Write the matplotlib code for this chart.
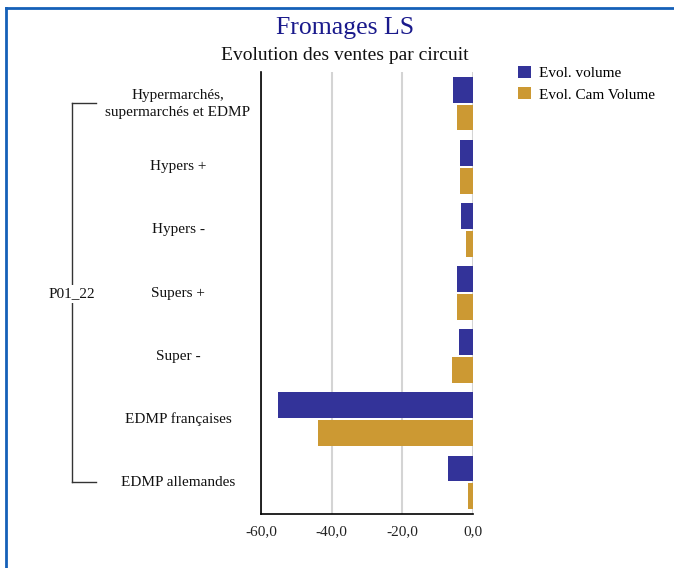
import matplotlib
matplotlib.use("Agg")
import matplotlib.pyplot as plt
from matplotlib.lines import Line2D
import numpy as np

categories = ["Hypermarchés,\nsupermarchés et EDMP", "Hypers +", "Hypers -",
              "Supers +", "Super -", "EDMP françaises", "EDMP allemandes"]
group_label = "P01_22"
evol_volume = [-5.7, -3.7, -3.5, -4.6, -4.0, -55.3, -7.1]
evol_cam_volume = [-4.6, -3.7, -2.1, -4.6, -6.0, -43.8, -1.5]
series_names = ["Evol. volume", "Evol. Cam Volume"]
xticks = [-60, -40, -20, 0]
xtick_labels = ["-60,0", "-40,0", "-20,0", "0,0"]
title = "Fromages LS"
subtitle = "Evolution des ventes par circuit"

W, H = 674, 568
FONT = "Liberation Serif"
plt.rcParams['font.family'] = [FONT, 'DejaVu Serif']

fig = plt.figure(figsize=(W / 100, H / 100), dpi=100)

def fx(px):
    return px / W

def fy(py):
    return 1 - py / H

ax = fig.add_axes([fx(261), fy(514), fx(473) - fx(261), fy(72) - fy(514)])

y = np.arange(len(categories))
off = 0.22
h = 0.41
ax.barh(y - off, evol_volume, height=h, color="#333399", label=series_names[0], zorder=3)
ax.barh(y + off, evol_cam_volume, height=h, color="#CC9933", label=series_names[1], zorder=3)

ax.set_xlim(-60, 0)
ax.set_ylim(len(categories) - 0.5, -0.5)
ax.set_xticks(xticks)
ax.set_xticklabels(xtick_labels, fontsize=11, color="#222222")
ax.tick_params(axis='x', length=0, pad=8)
ax.set_yticks([])
ax.grid(axis='x', color="#d4d4d4", linewidth=1.5, zorder=0)
for s in ["top", "right"]:
    ax.spines[s].set_visible(False)
ax.spines["left"].set_color("black")
ax.spines["bottom"].set_color("black")
ax.spines["left"].set_linewidth(1.2)
ax.spines["bottom"].set_linewidth(1.2)

# category labels
trans = matplotlib.transforms.blended_transform_factory(fig.transFigure, ax.transData)
for i, c in enumerate(categories):
    ax.text(fx(178), i, c, transform=trans, ha="center", va="center",
            fontsize=11, color="#111111", linespacing=1.4)

# bracket
lc = "#333333"
fig.add_artist(Line2D([fx(72), fx(72)], [fy(103), fy(482)], color=lc, lw=1, transform=fig.transFigure))
fig.add_artist(Line2D([fx(72), fx(96)], [fy(103), fy(103)], color=lc, lw=1, transform=fig.transFigure))
fig.add_artist(Line2D([fx(72), fx(96)], [fy(482), fy(482)], color=lc, lw=1, transform=fig.transFigure))
fig.text(fx(72), fy(294), group_label, ha="center", va="center", fontsize=11, color="#111111",
         bbox=dict(facecolor="white", edgecolor="none", pad=1.5))

# titles
fig.text(fx(345), fy(28), title, ha="center", va="center", fontsize=18.5, color="#1a1a8c")
fig.text(fx(345), fy(56), subtitle, ha="center", va="center", fontsize=14, color="#111111")

# legend
fig.legend(loc="upper left", bbox_to_anchor=(fx(515), fy(63)), frameon=False,
           fontsize=11, handlelength=0.85, handleheight=0.85, handletextpad=0.5,
           labelspacing=0.45, borderaxespad=0, borderpad=0.2)

# frame
fig.add_artist(Line2D([fx(6), fx(6)], [fy(8), 0], color="#1560b8", lw=2, transform=fig.transFigure))
fig.add_artist(Line2D([fx(6), 1], [fy(8), fy(8)], color="#1560b8", lw=2, transform=fig.transFigure))

fig.savefig("out.png", dpi=100)
